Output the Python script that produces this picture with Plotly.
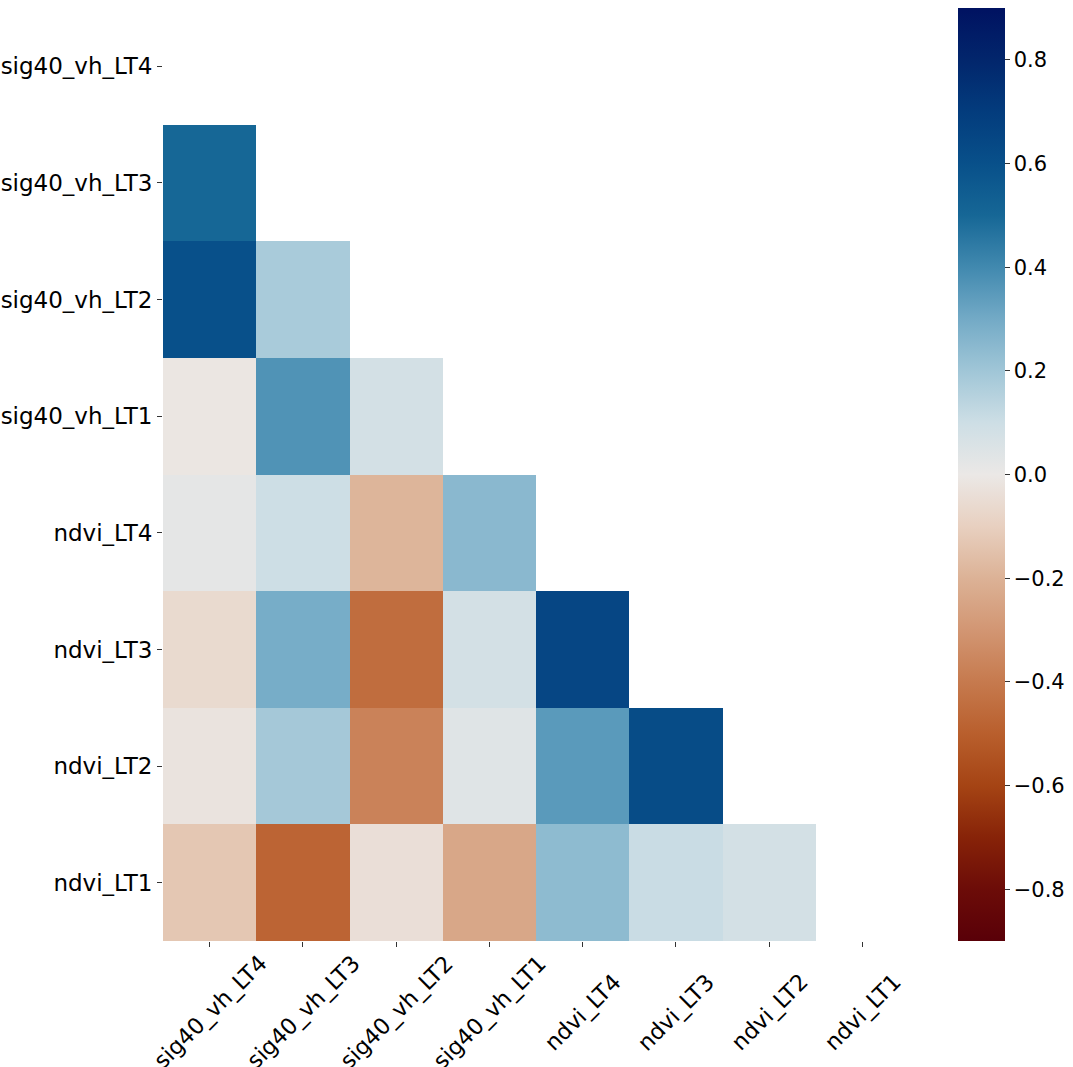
import plotly.graph_objects as go

labels = ["sig40_vh_LT4", "sig40_vh_LT3", "sig40_vh_LT2", "sig40_vh_LT1",
          "ndvi_LT4", "ndvi_LT3", "ndvi_LT2", "ndvi_LT1"]

# lower-triangle correlation values (row i, columns 0..i-1)
row_sig40_vh_LT3 = [0.50]
row_sig40_vh_LT2 = [0.60, 0.18]
row_sig40_vh_LT1 = [-0.01, 0.37, 0.08]
row_ndvi_LT4 = [0.02, 0.10, -0.19, 0.25]
row_ndvi_LT3 = [-0.06, 0.29, -0.45, 0.08, 0.65]
row_ndvi_LT2 = [-0.02, 0.19, -0.37, 0.04, 0.35, 0.62]
row_ndvi_LT1 = [-0.13, -0.48, -0.04, -0.24, 0.24, 0.11, 0.08]

rows = [[], row_sig40_vh_LT3, row_sig40_vh_LT2, row_sig40_vh_LT1,
        row_ndvi_LT4, row_ndvi_LT3, row_ndvi_LT2, row_ndvi_LT1]

n = len(labels)
z = [r + [None] * (n - len(r)) for r in rows]

# vik-like reversed diverging colormap (value, colour)
cmap_pts = [
    (-0.9, (89, 0, 8)), (-0.8, (108, 12, 8)), (-0.7, (135, 35, 8)),
    (-0.6, (165, 68, 20)), (-0.5, (185, 95, 45)), (-0.4, (198, 122, 78)),
    (-0.3, (210, 150, 115)), (-0.2, (220, 178, 150)), (-0.1, (232, 208, 192)),
    (0.0, (235, 232, 230)), (0.1, (205, 222, 229)), (0.2, (160, 198, 215)),
    (0.3, (115, 170, 198)), (0.4, (65, 137, 175)), (0.5, (22, 103, 150)),
    (0.6, (8, 80, 138)), (0.7, (3, 60, 125)), (0.8, (2, 38, 108)),
    (0.9, (0, 18, 97)),
]
colorscale = [[(v + 0.9) / 1.8, "rgb(%d,%d,%d)" % c] for v, c in cmap_pts]

FS = 22.5

fig = go.Figure(go.Heatmap(
    z=z, x=labels, y=labels,
    zmin=-0.9, zmax=0.9,
    colorscale=colorscale,
    hoverongaps=False,
    colorbar=dict(
        x=1.066, xanchor="left", xpad=0,
        y=0.5, yanchor="middle", len=1.0, lenmode="fraction", ypad=0,
        thickness=47, outlinewidth=0,
        tick0=0, dtick=0.2, ticks="outside", ticklen=5,
        tickcolor="#333", tickformat=".1f",
        tickfont=dict(size=21, color="black", family="DejaVu Sans"),
    ),
))

# x tick labels: rotated 45 degrees, centred on the tick (matplotlib style)
for lab in labels:
    fig.add_annotation(
        x=lab, xref="x", y=-0.076, yref="paper",
        text=lab, textangle=-45, showarrow=False,
        xanchor="center", yanchor="middle",
        font=dict(size=FS, color="black", family="DejaVu Sans"),
    )

fig.update_layout(
    width=1073, height=1067,
    margin=dict(l=163, r=158, t=8, b=126),
    paper_bgcolor="white", plot_bgcolor="white",
    font=dict(family="DejaVu Sans", size=FS, color="black"),
    xaxis=dict(
        range=[-0.5, n - 0.5], autorange=False,
        ticks="outside", ticklen=5, tickcolor="#333",
        showticklabels=False,
        showgrid=False, zeroline=False, automargin=False,
    ),
    yaxis=dict(
        range=[n - 0.5, -0.5], autorange=False,
        ticks="outside", ticklen=5, tickcolor="#333",
        showgrid=False, zeroline=False, automargin=False,
        tickfont=dict(size=23),
    ),
)

fig.write_html("out.html")
